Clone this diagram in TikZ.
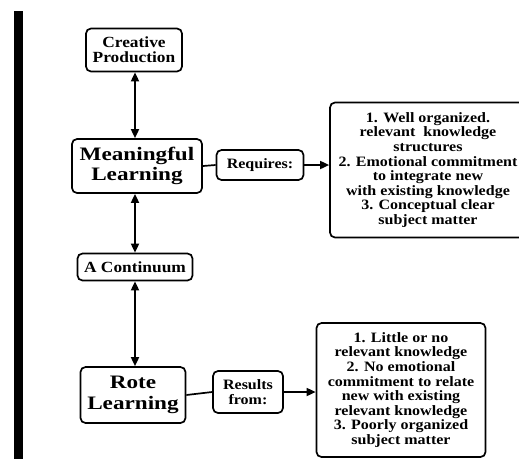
\documentclass[tikz,border=0pt]{standalone}
\usepackage{fontspec}
\setmainfont[FakeStretch=1.12]{Liberation Serif}
\usetikzlibrary{arrows.meta}

\tikzset{
	box/.style={draw, line width=1.7pt, rounded corners=5pt, align=center, inner sep=1pt, font=\bfseries\fontsize{14.3}{14.6}\selectfont},
	tagbox/.style={box, font=\bfseries\fontsize{15.5}{15}\selectfont},
	mainbox/.style={box, font=\bfseries\fontsize{19}{20.5}\selectfont\addfontfeatures{FakeStretch=1.22}},
	link/.style={line width=1.7pt},
	dbl/.style={link, {Triangle[width=8pt,length=9pt]}-{Triangle[width=8pt,length=9pt]}},
	sgl/.style={link, -{Triangle[width=8pt,length=9pt]}}
}

\begin{document}
\begin{tikzpicture}[x=1pt, y=-1pt]
	\useasboundingbox (0,0) rectangle (519,459);
	\clip (0,0) rectangle (519,459);
	\fill[white] (0,0) rectangle (519,459);
	\fill[black] (14,11) rectangle (23,459);

	\node[tagbox, minimum width=96pt, minimum height=43pt] (cp) at (134,50) {Creative\\Production};
	\node[mainbox, minimum width=130pt, minimum height=54pt] (ml) at (137,166) {Meaningful\\Learning};
	\node[box, minimum width=87pt, minimum height=30pt] (req) at (260,165) {Requires:};
	\node[box, minimum width=196pt, minimum height=135pt] (wk) at (428,170) {1. Well organized.\\relevant\ \ knowledge\\structures\\2. Emotional commitment\\to integrate new\\with existing knowledge\\3. Conceptual clear\\subject matter};
	\node[tagbox, minimum width=115pt, minimum height=27pt] (ac) at (135,267) {A Continuum};
	\node[mainbox, minimum width=105pt, minimum height=56pt] (rl) at (133,395) {Rote\\Learning};
	\node[box, minimum width=70pt, minimum height=42pt] (rf) at (248,392) {Results\\from:};
	\node[box, minimum width=169pt, minimum height=134pt] (ln) at (401,390) {1. Little or no\\relevant knowledge\\2. No emotional\\commitment to relate\\new with existing\\relevant knowledge\\3. Poorly organized\\subject matter};

	\draw[dbl] (cp.south -| 135,0) -- (ml.north -| 135,0);
	\draw[dbl] (ml.south -| 135,0) -- (ac.north -| 135,0);
	\draw[dbl] (ac.south -| 135,0) -- (rl.north -| 135,0);
	\draw[link] (ml.east) -- (req.west);
	\draw[sgl] (req.east) -- (wk.west |- req.east);
	\draw[link] (rl.east) -- (rf.west);
	\draw[sgl] (rf.east) -- (ln.west |- rf.east);
\end{tikzpicture}
\end{document}
